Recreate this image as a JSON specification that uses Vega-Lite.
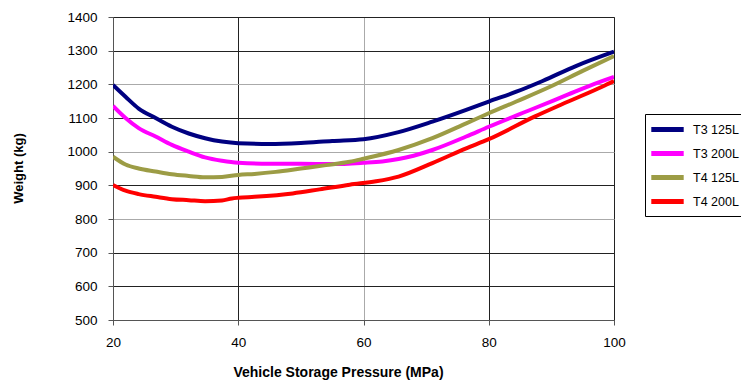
{
  "$schema": "https://vega.github.io/schema/vega-lite/v6.json",
  "width": 501,
  "height": 303,
  "autosize": {"type": "none"},
  "padding": {"left": 113, "top": 17, "right": 127, "bottom": 61},
  "background": "white",
  "config": {
    "font": "Liberation Sans",
    "view": {"stroke": "#888888", "strokeWidth": 1}
  },
  "data": {
    "values": [
      {"p": 20, "w": 1198, "s": "T3 125L"},
      {"p": 22, "w": 1163, "s": "T3 125L"},
      {"p": 24.1, "w": 1128, "s": "T3 125L"},
      {"p": 26.8, "w": 1100, "s": "T3 125L"},
      {"p": 29.4, "w": 1074, "s": "T3 125L"},
      {"p": 32.1, "w": 1054, "s": "T3 125L"},
      {"p": 34.7, "w": 1040, "s": "T3 125L"},
      {"p": 37.4, "w": 1030, "s": "T3 125L"},
      {"p": 40, "w": 1025, "s": "T3 125L"},
      {"p": 45, "w": 1023, "s": "T3 125L"},
      {"p": 50, "w": 1026, "s": "T3 125L"},
      {"p": 55, "w": 1032, "s": "T3 125L"},
      {"p": 60, "w": 1037, "s": "T3 125L"},
      {"p": 65.6, "w": 1058, "s": "T3 125L"},
      {"p": 71, "w": 1089, "s": "T3 125L"},
      {"p": 76.4, "w": 1124, "s": "T3 125L"},
      {"p": 80, "w": 1149, "s": "T3 125L"},
      {"p": 84.4, "w": 1178, "s": "T3 125L"},
      {"p": 88.6, "w": 1210, "s": "T3 125L"},
      {"p": 94, "w": 1255, "s": "T3 125L"},
      {"p": 100, "w": 1297, "s": "T3 125L"},

      {"p": 20, "w": 1136, "s": "T3 200L"},
      {"p": 22, "w": 1100, "s": "T3 200L"},
      {"p": 24.1, "w": 1070, "s": "T3 200L"},
      {"p": 26.8, "w": 1045, "s": "T3 200L"},
      {"p": 29.4, "w": 1020, "s": "T3 200L"},
      {"p": 32.1, "w": 1000, "s": "T3 200L"},
      {"p": 34.7, "w": 983, "s": "T3 200L"},
      {"p": 37.4, "w": 973, "s": "T3 200L"},
      {"p": 40, "w": 967, "s": "T3 200L"},
      {"p": 45, "w": 964, "s": "T3 200L"},
      {"p": 50, "w": 964, "s": "T3 200L"},
      {"p": 55, "w": 963, "s": "T3 200L"},
      {"p": 60, "w": 967, "s": "T3 200L"},
      {"p": 63, "w": 971, "s": "T3 200L"},
      {"p": 65.6, "w": 978, "s": "T3 200L"},
      {"p": 68, "w": 988, "s": "T3 200L"},
      {"p": 71, "w": 1005, "s": "T3 200L"},
      {"p": 76.4, "w": 1045, "s": "T3 200L"},
      {"p": 80, "w": 1074, "s": "T3 200L"},
      {"p": 87.3, "w": 1129, "s": "T3 200L"},
      {"p": 92.7, "w": 1170, "s": "T3 200L"},
      {"p": 96, "w": 1195, "s": "T3 200L"},
      {"p": 100, "w": 1222, "s": "T3 200L"},

      {"p": 20, "w": 985, "s": "T4 125L"},
      {"p": 22, "w": 962, "s": "T4 125L"},
      {"p": 24.1, "w": 950, "s": "T4 125L"},
      {"p": 26.8, "w": 941, "s": "T4 125L"},
      {"p": 29.4, "w": 933, "s": "T4 125L"},
      {"p": 32.1, "w": 928, "s": "T4 125L"},
      {"p": 34.7, "w": 924, "s": "T4 125L"},
      {"p": 37.4, "w": 925, "s": "T4 125L"},
      {"p": 40, "w": 931, "s": "T4 125L"},
      {"p": 42.6, "w": 934, "s": "T4 125L"},
      {"p": 46, "w": 940, "s": "T4 125L"},
      {"p": 50, "w": 950, "s": "T4 125L"},
      {"p": 54, "w": 960, "s": "T4 125L"},
      {"p": 57.8, "w": 970, "s": "T4 125L"},
      {"p": 60, "w": 979, "s": "T4 125L"},
      {"p": 65.6, "w": 1005, "s": "T4 125L"},
      {"p": 71, "w": 1040, "s": "T4 125L"},
      {"p": 76.4, "w": 1084, "s": "T4 125L"},
      {"p": 80, "w": 1114, "s": "T4 125L"},
      {"p": 84.4, "w": 1149, "s": "T4 125L"},
      {"p": 89.7, "w": 1192, "s": "T4 125L"},
      {"p": 95, "w": 1240, "s": "T4 125L"},
      {"p": 100, "w": 1284, "s": "T4 125L"},

      {"p": 20, "w": 901, "s": "T4 200L"},
      {"p": 22, "w": 884, "s": "T4 200L"},
      {"p": 24.1, "w": 874, "s": "T4 200L"},
      {"p": 26.8, "w": 866, "s": "T4 200L"},
      {"p": 29.4, "w": 859, "s": "T4 200L"},
      {"p": 32.1, "w": 856, "s": "T4 200L"},
      {"p": 34.7, "w": 853, "s": "T4 200L"},
      {"p": 37.4, "w": 855, "s": "T4 200L"},
      {"p": 39, "w": 861, "s": "T4 200L"},
      {"p": 40, "w": 863, "s": "T4 200L"},
      {"p": 42.6, "w": 866, "s": "T4 200L"},
      {"p": 48.7, "w": 876, "s": "T4 200L"},
      {"p": 53, "w": 888, "s": "T4 200L"},
      {"p": 57.8, "w": 902, "s": "T4 200L"},
      {"p": 62, "w": 912, "s": "T4 200L"},
      {"p": 65.6, "w": 926, "s": "T4 200L"},
      {"p": 71, "w": 966, "s": "T4 200L"},
      {"p": 76.4, "w": 1010, "s": "T4 200L"},
      {"p": 80, "w": 1037, "s": "T4 200L"},
      {"p": 87.3, "w": 1104, "s": "T4 200L"},
      {"p": 92.7, "w": 1149, "s": "T4 200L"},
      {"p": 98.1, "w": 1193, "s": "T4 200L"},
      {"p": 100, "w": 1210, "s": "T4 200L"}
    ]
  },
  "mark": {"type": "line", "strokeWidth": 4, "interpolate": "monotone", "clip": true},
  "encoding": {
    "x": {
      "field": "p",
      "type": "quantitative",
      "scale": {"domain": [20, 100], "nice": false, "zero": false},
      "axis": {
        "title": "Vehicle Storage Pressure (MPa)",
        "values": [20, 40, 60, 80, 100],
        "format": "d",
        "labelFontSize": 13.5,
        "labelColor": "#000000",
        "labelPadding": 10,
        "labelFlush": false,
        "tickSize": 5,
        "tickColor": "#555555",
        "domainColor": "#555555",
        "gridColor": {"condition": {"test": "datum.value == 60", "value": "#aaaaaa"}, "value": "#222222"},
        "titleFontSize": 14,
        "titleFontWeight": "bold",
        "titleColor": "#000000",
        "titleX": 225,
        "titleY": 52,
        "titleBaseline": "middle"
      }
    },
    "y": {
      "field": "w",
      "type": "quantitative",
      "scale": {"domain": [500, 1400], "nice": false, "zero": false},
      "axis": {
        "title": "Weight (kg)",
        "values": [500, 600, 700, 800, 900, 1000, 1100, 1200, 1300, 1400],
        "format": "d",
        "labelFontSize": 13.5,
        "labelColor": "#000000",
        "labelPadding": 11,
        "tickSize": 5,
        "tickColor": "#555555",
        "domainColor": "#555555",
        "gridColor": {"condition": {"test": "datum.value == 1200 || datum.value == 1000 || datum.value == 800", "value": "#aaaaaa"}, "value": "#222222"},
        "titleFontSize": 13,
        "titleFontWeight": "bold",
        "titleColor": "#000000",
        "titleX": -95,
        "titleY": 151,
        "titleAngle": -90,
        "titleBaseline": "middle",
        "titleAlign": "center"
      }
    },
    "color": {
      "field": "s",
      "type": "nominal",
      "scale": {
        "domain": ["T3 125L", "T3 200L", "T4 125L", "T4 200L"],
        "range": ["#000080", "#ff00ff", "#9c9c45", "#ff0000"]
      },
      "legend": {
        "title": null,
        "orient": "none",
        "legendX": 532,
        "legendY": 97,
        "strokeColor": "#000000",
        "fillColor": "#ffffff",
        "padding": 4,
        "symbolType": "M-1.8,0H1.8",
        "symbolSize": 324,
        "symbolStrokeWidth": 5,
        "symbolOffset": 7,
        "rowPadding": 2,
        "labelOffset": 14,
        "labelFontSize": 12.5,
        "labelColor": "#000000"
      }
    }
  }
}
